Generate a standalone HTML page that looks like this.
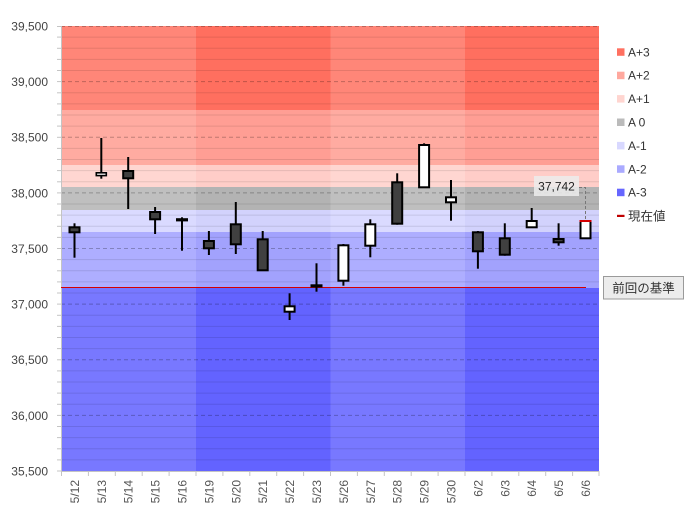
<!DOCTYPE html>
<html><head><meta charset="utf-8"><style>
html,body{margin:0;padding:0;background:#fff;}
svg{display:block;font-family:"Liberation Sans","Noto Sans CJK JP",sans-serif;}
</style></head><body>
<svg width="691" height="525" viewBox="0 0 691 525" xmlns="http://www.w3.org/2000/svg">
<!-- bands light weeks -->
<g>
<rect x="61" y="26" width="538" height="84" fill="#ff8678"/>
<rect x="61" y="110" width="538" height="55" fill="#ffaba1"/>
<rect x="61" y="165" width="538" height="22" fill="#ffd6d1"/>
<rect x="61" y="187" width="538" height="23" fill="#bfbfbf"/>
<rect x="61" y="210" width="538" height="22" fill="#dadaff"/>
<rect x="61" y="232" width="538" height="56" fill="#aeaeff"/>
<rect x="61" y="288" width="538" height="183" fill="#7878ff"/>
</g>
<!-- dark weeks -->
<g>
<rect x="196" y="26" width="134.5" height="84" fill="#ff6f5f"/>
<rect x="196" y="110" width="134.5" height="55" fill="#ff9e94"/>
<rect x="196" y="165" width="134.5" height="22" fill="#ffcdc8"/>
<rect x="196" y="187" width="134.5" height="23" fill="#b3b3b3"/>
<rect x="196" y="210" width="134.5" height="22" fill="#d2d2fc"/>
<rect x="196" y="232" width="134.5" height="56" fill="#a2a2fd"/>
<rect x="196" y="288" width="134.5" height="183" fill="#6363ff"/>
<rect x="465" y="26" width="134" height="84" fill="#ff6f5f"/>
<rect x="465" y="110" width="134" height="55" fill="#ff9e94"/>
<rect x="465" y="165" width="134" height="22" fill="#ffcdc8"/>
<rect x="465" y="187" width="134" height="23" fill="#b3b3b3"/>
<rect x="465" y="210" width="134" height="22" fill="#d2d2fc"/>
<rect x="465" y="232" width="134" height="56" fill="#a2a2fd"/>
<rect x="465" y="288" width="134" height="183" fill="#6363ff"/>
</g>
<!-- gridlines -->
<g stroke="rgba(0,0,0,0.1)" stroke-width="1">
<line x1="61" x2="599" y1="37.1" y2="37.1"/><line x1="61" x2="599" y1="48.3" y2="48.3"/><line x1="61" x2="599" y1="59.4" y2="59.4"/><line x1="61" x2="599" y1="70.5" y2="70.5"/>
<line x1="61" x2="599" y1="92.8" y2="92.8"/><line x1="61" x2="599" y1="103.9" y2="103.9"/><line x1="61" x2="599" y1="115" y2="115"/><line x1="61" x2="599" y1="126.1" y2="126.1"/>
<line x1="61" x2="599" y1="148.4" y2="148.4"/><line x1="61" x2="599" y1="159.5" y2="159.5"/><line x1="61" x2="599" y1="170.6" y2="170.6"/><line x1="61" x2="599" y1="181.8" y2="181.8"/>
<line x1="61" x2="599" y1="204" y2="204"/><line x1="61" x2="599" y1="215.1" y2="215.1"/><line x1="61" x2="599" y1="226.3" y2="226.3"/><line x1="61" x2="599" y1="237.4" y2="237.4"/>
<line x1="61" x2="599" y1="259.6" y2="259.6"/><line x1="61" x2="599" y1="270.8" y2="270.8"/><line x1="61" x2="599" y1="281.9" y2="281.9"/><line x1="61" x2="599" y1="293" y2="293"/>
<line x1="61" x2="599" y1="315.3" y2="315.3"/><line x1="61" x2="599" y1="326.4" y2="326.4"/><line x1="61" x2="599" y1="337.5" y2="337.5"/><line x1="61" x2="599" y1="348.6" y2="348.6"/>
<line x1="61" x2="599" y1="370.9" y2="370.9"/><line x1="61" x2="599" y1="382" y2="382"/><line x1="61" x2="599" y1="393.1" y2="393.1"/><line x1="61" x2="599" y1="404.3" y2="404.3"/>
<line x1="61" x2="599" y1="426.5" y2="426.5"/><line x1="61" x2="599" y1="437.6" y2="437.6"/><line x1="61" x2="599" y1="448.8" y2="448.8"/><line x1="61" x2="599" y1="459.9" y2="459.9"/>
</g>
<g stroke="rgba(0,0,0,0.25)" stroke-width="1" stroke-dasharray="4,3">
<line x1="61" x2="599" y1="26.5" y2="26.5"/><line x1="61" x2="599" y1="81.6" y2="81.6"/><line x1="61" x2="599" y1="137.3" y2="137.3"/><line x1="61" x2="599" y1="192.9" y2="192.9"/>
<line x1="61" x2="599" y1="248.5" y2="248.5"/><line x1="61" x2="599" y1="304.1" y2="304.1"/><line x1="61" x2="599" y1="359.8" y2="359.8"/><line x1="61" x2="599" y1="415.4" y2="415.4"/>
</g>
<!-- axes -->
<g stroke="#c4c4c4" stroke-width="1">
<line x1="61.5" x2="61.5" y1="26" y2="471"/>
<line x1="61" x2="599.5" y1="471.5" y2="471.5"/>
</g>
<g stroke="#c4c4c4" stroke-width="1">
<line x1="57" x2="61" y1="26.5" y2="26.5"/><line x1="57" x2="61" y1="37.1" y2="37.1"/><line x1="57" x2="61" y1="48.3" y2="48.3"/><line x1="57" x2="61" y1="59.4" y2="59.4"/><line x1="57" x2="61" y1="70.5" y2="70.5"/><line x1="57" x2="61" y1="81.6" y2="81.6"/><line x1="57" x2="61" y1="92.8" y2="92.8"/><line x1="57" x2="61" y1="103.9" y2="103.9"/><line x1="57" x2="61" y1="115" y2="115"/><line x1="57" x2="61" y1="126.1" y2="126.1"/><line x1="57" x2="61" y1="137.3" y2="137.3"/><line x1="57" x2="61" y1="148.4" y2="148.4"/><line x1="57" x2="61" y1="159.5" y2="159.5"/><line x1="57" x2="61" y1="170.6" y2="170.6"/><line x1="57" x2="61" y1="181.8" y2="181.8"/><line x1="57" x2="61" y1="192.9" y2="192.9"/><line x1="57" x2="61" y1="204" y2="204"/><line x1="57" x2="61" y1="215.1" y2="215.1"/><line x1="57" x2="61" y1="226.3" y2="226.3"/><line x1="57" x2="61" y1="237.4" y2="237.4"/><line x1="57" x2="61" y1="248.5" y2="248.5"/><line x1="57" x2="61" y1="259.6" y2="259.6"/><line x1="57" x2="61" y1="270.8" y2="270.8"/><line x1="57" x2="61" y1="281.9" y2="281.9"/><line x1="57" x2="61" y1="293" y2="293"/><line x1="57" x2="61" y1="304.1" y2="304.1"/><line x1="57" x2="61" y1="315.3" y2="315.3"/><line x1="57" x2="61" y1="326.4" y2="326.4"/><line x1="57" x2="61" y1="337.5" y2="337.5"/><line x1="57" x2="61" y1="348.6" y2="348.6"/><line x1="57" x2="61" y1="359.8" y2="359.8"/><line x1="57" x2="61" y1="370.9" y2="370.9"/><line x1="57" x2="61" y1="382" y2="382"/><line x1="57" x2="61" y1="393.1" y2="393.1"/><line x1="57" x2="61" y1="404.3" y2="404.3"/><line x1="57" x2="61" y1="415.4" y2="415.4"/><line x1="57" x2="61" y1="426.5" y2="426.5"/><line x1="57" x2="61" y1="437.6" y2="437.6"/><line x1="57" x2="61" y1="448.8" y2="448.8"/><line x1="57" x2="61" y1="459.9" y2="459.9"/><line x1="57" x2="61" y1="471" y2="471"/>
</g>
<g stroke="#c4c4c4" stroke-width="1">
<line x1="61.5" x2="61.5" y1="471" y2="476"/><line x1="88.4" x2="88.4" y1="471" y2="476"/><line x1="115.3" x2="115.3" y1="471" y2="476"/><line x1="142.2" x2="142.2" y1="471" y2="476"/><line x1="169.1" x2="169.1" y1="471" y2="476"/><line x1="196" x2="196" y1="471" y2="476"/><line x1="222.9" x2="222.9" y1="471" y2="476"/><line x1="249.8" x2="249.8" y1="471" y2="476"/><line x1="276.7" x2="276.7" y1="471" y2="476"/><line x1="303.6" x2="303.6" y1="471" y2="476"/><line x1="330.5" x2="330.5" y1="471" y2="476"/><line x1="357.4" x2="357.4" y1="471" y2="476"/><line x1="384.3" x2="384.3" y1="471" y2="476"/><line x1="411.2" x2="411.2" y1="471" y2="476"/><line x1="438.1" x2="438.1" y1="471" y2="476"/><line x1="465" x2="465" y1="471" y2="476"/><line x1="491.9" x2="491.9" y1="471" y2="476"/><line x1="518.8" x2="518.8" y1="471" y2="476"/><line x1="545.7" x2="545.7" y1="471" y2="476"/><line x1="572.6" x2="572.6" y1="471" y2="476"/><line x1="599" x2="599" y1="471" y2="476"/>
</g>
<!-- y labels -->
<g font-size="12" fill="#444" text-anchor="end">
<text x="48" y="30.5">39,500</text><text x="48" y="86">39,000</text><text x="48" y="141.7">38,500</text><text x="48" y="197.3">38,000</text>
<text x="48" y="252.9">37,500</text><text x="48" y="308.5">37,000</text><text x="48" y="364.2">36,500</text><text x="48" y="419.8">36,000</text><text x="48" y="475.4">35,500</text>
</g>
<!-- x labels -->
<g font-size="12" fill="#555" text-anchor="end">
<text transform="translate(79,480) rotate(-90)">5/12</text>
<text transform="translate(105.8,480) rotate(-90)">5/13</text>
<text transform="translate(132.7,480) rotate(-90)">5/14</text>
<text transform="translate(159.6,480) rotate(-90)">5/15</text>
<text transform="translate(186.5,480) rotate(-90)">5/16</text>
<text transform="translate(213.4,480) rotate(-90)">5/19</text>
<text transform="translate(240.3,480) rotate(-90)">5/20</text>
<text transform="translate(267.2,480) rotate(-90)">5/21</text>
<text transform="translate(294.1,480) rotate(-90)">5/22</text>
<text transform="translate(321,480) rotate(-90)">5/23</text>
<text transform="translate(347.9,480) rotate(-90)">5/26</text>
<text transform="translate(374.8,480) rotate(-90)">5/27</text>
<text transform="translate(401.7,480) rotate(-90)">5/28</text>
<text transform="translate(428.6,480) rotate(-90)">5/29</text>
<text transform="translate(455.5,480) rotate(-90)">5/30</text>
<text transform="translate(482.4,480) rotate(-90)">6/2</text>
<text transform="translate(509.3,480) rotate(-90)">6/3</text>
<text transform="translate(536.2,480) rotate(-90)">6/4</text>
<text transform="translate(563.1,480) rotate(-90)">6/5</text>
<text transform="translate(590,480) rotate(-90)">6/6</text>
</g>
<!-- previous reference line -->
<line x1="61" x2="586" y1="287.5" y2="287.5" stroke="#d40000" stroke-width="1"/>
<!-- candles wicks -->
<g stroke="#000" stroke-width="2">
<line x1="74.5" x2="74.5" y1="223.3" y2="257.7"/>
<line x1="101.3" x2="101.3" y1="138" y2="178.7"/>
<line x1="128.2" x2="128.2" y1="157" y2="209"/>
<line x1="155.1" x2="155.1" y1="207" y2="234"/>
<line x1="182" x2="182" y1="217.3" y2="250.7"/>
<line x1="208.9" x2="208.9" y1="231" y2="255"/>
<line x1="235.8" x2="235.8" y1="202" y2="254"/>
<line x1="262.7" x2="262.7" y1="231" y2="271"/>
<line x1="289.6" x2="289.6" y1="293.3" y2="320"/>
<line x1="316.5" x2="316.5" y1="263.3" y2="291.7"/>
<line x1="343.4" x2="343.4" y1="244" y2="285.7"/>
<line x1="370.3" x2="370.3" y1="219.3" y2="257.3"/>
<line x1="397.2" x2="397.2" y1="173.3" y2="224.7"/>
<line x1="424.1" x2="424.1" y1="143.3" y2="188"/>
<line x1="451" x2="451" y1="180" y2="220.7"/>
<line x1="477.9" x2="477.9" y1="231" y2="268.7"/>
<line x1="504.8" x2="504.8" y1="223.3" y2="255.7"/>
<line x1="531.7" x2="531.7" y1="208" y2="228"/>
<line x1="558.6" x2="558.6" y1="223.3" y2="245.7"/>
</g>
<!-- candle bodies -->
<g stroke="#000" stroke-width="2">
<rect x="69.5" y="227.3" width="10" height="5" fill="#404040"/>
<rect x="96.3" y="172.8" width="10" height="2.8" fill="#fff" stroke-width="1.6"/>
<rect x="123.2" y="171" width="10" height="7.3" fill="#404040"/>
<rect x="150.1" y="212" width="10" height="7.3" fill="#404040"/>
<rect x="177" y="219.2" width="10" height="1.2" fill="#000"/>
<rect x="203.9" y="241" width="10" height="7.3" fill="#404040"/>
<rect x="230.8" y="224.3" width="10" height="20" fill="#404040"/>
<rect x="257.7" y="239.3" width="10" height="31" fill="#404040"/>
<rect x="284.6" y="306.3" width="10" height="5.4" fill="#fff"/>
<rect x="311.5" y="285.3" width="10" height="1.2" fill="#000"/>
<rect x="338.4" y="245.3" width="10" height="35.4" fill="#fff"/>
<rect x="365.3" y="224.3" width="10" height="21.4" fill="#fff"/>
<rect x="392.2" y="182.3" width="10" height="41.4" fill="#404040"/>
<rect x="419.1" y="145" width="10" height="42.3" fill="#fff"/>
<rect x="446" y="197.3" width="10" height="5" fill="#fff"/>
<rect x="472.9" y="232.3" width="10" height="19" fill="#404040"/>
<rect x="499.8" y="238.3" width="10" height="16.4" fill="#404040"/>
<rect x="526.7" y="221" width="10" height="6.3" fill="#fff"/>
<rect x="553.6" y="239" width="10" height="3.3" fill="#404040"/>
<rect x="580.5" y="221" width="10" height="17.3" fill="#fff"/>
</g>
<line x1="579.5" x2="591.5" y1="221" y2="221" stroke="#d40000" stroke-width="2"/>
<!-- current value label -->
<path d="M579,187.5 H585.5 V219" fill="none" stroke="#777" stroke-width="1" stroke-dasharray="3,2"/>
<rect x="534" y="176" width="45" height="20" fill="rgba(236,236,236,0.85)"/>
<text x="556.5" y="190.5" font-size="12" fill="#222" text-anchor="middle">37,742</text>
<!-- legend -->
<g>
<rect x="617" y="48.3" width="7.5" height="7.5" fill="#ff7060"/>
<rect x="617" y="71.7" width="7.5" height="7.5" fill="#ffa89e"/>
<rect x="617" y="95.1" width="7.5" height="7.5" fill="#ffd5d0"/>
<rect x="617" y="118.5" width="7.5" height="7.5" fill="#bbbbbb"/>
<rect x="617" y="141.9" width="7.5" height="7.5" fill="#d8d8ff"/>
<rect x="617" y="165.3" width="7.5" height="7.5" fill="#aaaaff"/>
<rect x="617" y="188.7" width="7.5" height="7.5" fill="#6666ff"/>
<rect x="617" y="214.8" width="7.5" height="2.2" fill="#c00000"/>
</g>
<g font-size="12" fill="#333">
<text x="628" y="56.3">A+3</text>
<text x="628" y="79.7">A+2</text>
<text x="628" y="103.1">A+1</text>
<text x="628" y="126.5">A 0</text>
<text x="628" y="149.9">A-1</text>
<text x="628" y="173.3">A-2</text>
<text x="628" y="196.7">A-3</text>
<text x="628" y="220.3" font-size="12.5">現在値</text>
</g>
<!-- button -->
<rect x="603.5" y="276.5" width="80" height="22.5" fill="#ececec" stroke="#9a9a9a" stroke-width="1"/>
<text x="643.5" y="292.5" font-size="12.5" fill="#333" text-anchor="middle">前回の基準</text>
</svg>
</body></html>
